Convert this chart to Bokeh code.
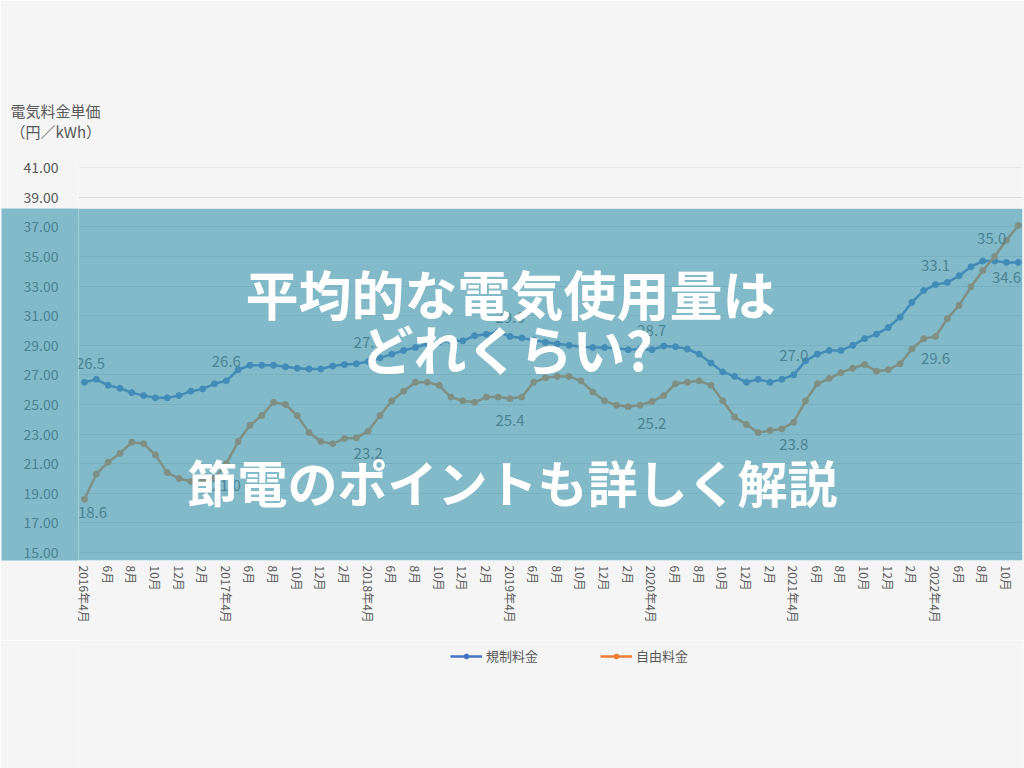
from bokeh.plotting import figure
from bokeh.layouts import column
from bokeh.models import (Range1d, FixedTicker, NumeralTickFormatter, ColumnDataSource,
                          BoxAnnotation, Label, Legend, LegendItem, Title)
from bokeh.embed import file_html
from bokeh.resources import INLINE
from bokeh.core.properties import value

# ---------------- data ----------------
# month index 0 = 2016年4月, 1 = 2016年5月, ... 79 = 2022年11月
tick_labels = [
    "2016年4月", "6月", "8月", "10月", "12月", "2月",
    "2017年4月", "6月", "8月", "10月", "12月", "2月",
    "2018年4月", "6月", "8月", "10月", "12月", "2月",
    "2019年4月", "6月", "8月", "10月", "12月", "2月",
    "2020年4月", "6月", "8月", "10月", "12月", "2月",
    "2021年4月", "6月", "8月", "10月", "12月", "2月",
    "2022年4月", "6月", "8月", "10月",
]

regulated = [  # 規制料金
    26.5, 26.7, 26.3, 26.1, 25.8, 25.6, 25.45, 25.45, 25.6, 25.9, 26.05, 26.4,
    26.6, 27.35, 27.65, 27.65, 27.65, 27.55, 27.45, 27.4, 27.4, 27.6, 27.7, 27.75,
    27.9, 28.15, 28.4, 28.65, 28.85, 29.1, 29.2, 29.3, 29.3, 29.65, 29.75, 29.9,
    29.6, 29.5, 29.35, 29.2, 29.1, 29.0, 28.9, 28.85, 28.85, 28.8, 28.7, 28.75,
    28.7, 28.95, 28.9, 28.75, 28.4, 27.8, 27.2, 26.9, 26.5, 26.7, 26.5, 26.7,
    27.0, 27.95, 28.4, 28.65, 28.65, 29.0, 29.45, 29.75, 30.2, 30.9, 31.9, 32.7,
    33.1, 33.25, 33.7, 34.3, 34.7, 34.7, 34.6, 34.6,
]

liberalized = [  # 自由料金
    18.6, 20.3, 21.1, 21.7, 22.45, 22.35, 21.6, 20.4, 20.0, 19.8, 19.8, 20.0,
    21.0, 22.5, 23.6, 24.25, 25.15, 25.0, 24.25, 23.1, 22.5, 22.35, 22.7, 22.75,
    23.2, 24.25, 25.25, 25.9, 26.5, 26.5, 26.3, 25.5, 25.25, 25.15, 25.5, 25.5,
    25.4, 25.5, 26.5, 26.8, 26.9, 26.9, 26.6, 25.85, 25.25, 24.95, 24.85, 24.95,
    25.2, 25.6, 26.4, 26.5, 26.6, 26.3, 25.25, 24.15, 23.65, 23.1, 23.25, 23.35,
    23.8, 25.25, 26.4, 26.75, 27.15, 27.45, 27.7, 27.25, 27.35, 27.75, 28.75, 29.45,
    29.6, 30.8, 31.7, 32.95, 34.05, 35.0, 36.1, 37.1,
]

regulated_label_idx = [0, 12, 24, 36, 48, 60, 72, 78]
liberalized_label_idx = [0, 12, 24, 36, 48, 60, 72, 77]

series_names = ["規制料金", "自由料金"]
y_ticks = [15, 17, 19, 21, 23, 25, 27, 29, 31, 33, 35, 37, 39, 41]
headline = ["平均的な電気使用量は", "どれくらい?", "節電のポイントも詳しく解説"]
axis_title = "電気料金単価\n（円／kWh）"

# ---------------- styling ----------------
BLUE = "#4472C4"
ORANGE = "#ED7D31"
GRAY = "#595959"
BG = "#f5f5f5"
BANNER = "rgb(68,154,177)"
BANNER_ON_BG = "rgb(130,186,201)"
GRAY_UNDER_BANNER = "#4b8392"
JP = "Noto Sans CJK JP"

# page geometry: plot area x 78..1022 ; value 15 at y=552, 14.8 px per unit ; 11.82 px per month
PX_MONTH = 11.82
PX_UNIT = 14.8
BANNER_TOP = 208      # banner top edge (page y)
BANNER_BOTTOM = 560   # banner bottom edge (page y)


def dx_(px):
    return (px - 84) / PX_MONTH


def dy_(py):
    return 15 + (552 - py) / PX_UNIT


x = list(range(len(regulated)))
xr = Range1d(dx_(78), dx_(1022))


def style_y(ax, color):
    ax.ticker = FixedTicker(ticks=y_ticks)
    ax.formatter = NumeralTickFormatter(format="0.00")
    ax.axis_line_color = None
    ax.major_tick_line_color = None
    ax.minor_tick_line_color = None
    ax.major_tick_out = 0
    ax.major_label_standoff = 20
    ax.major_label_text_font = JP
    ax.major_label_text_font_size = "14px"
    ax.major_label_text_color = color


def base(fig):
    fig.background_fill_color = BG
    fig.border_fill_color = BG
    fig.outline_line_color = None
    fig.title.visible = False
    fig.xgrid.grid_line_color = None
    fig.ygrid.grid_line_color = "#d9d9d9"
    fig.ygrid.grid_line_width = 1


def draw_series(fig):
    bl = fig.line(x, regulated, line_color=BLUE, line_width=2.5)
    bs = fig.scatter(x, regulated, size=6, fill_color=BLUE, line_color=BLUE)
    ol = fig.line(x, liberalized, line_color=ORANGE, line_width=2.5)
    os_ = fig.scatter(x, liberalized, size=6, fill_color=ORANGE, line_color=ORANGE)
    return bl, bs, ol, os_


# ---------- upper strip (above the banner): 41 / 39 gridlines and the value-axis title ----------
pt = figure(width=1024, height=BANNER_TOP, output_backend="svg", toolbar_location=None,
            x_range=xr, y_range=Range1d(dy_(BANNER_TOP), dy_(167)), x_axis_location=None,
            min_border_left=78, min_border_right=2, min_border_top=167, min_border_bottom=0)
base(pt)
style_y(pt.yaxis, GRAY)
draw_series(pt)
pt.add_layout(Title(text=axis_title, align="left", offset=-68, standoff=51,
                    text_font=JP, text_font_size="15px", text_font_style="normal",
                    text_color=GRAY), "above")

# ---------- main part (under the banner) with the category axis ----------
pb = figure(width=1024, height=640 - BANNER_TOP, output_backend="svg", toolbar_location=None,
            x_range=xr, y_range=Range1d(dy_(BANNER_BOTTOM), dy_(BANNER_TOP)),
            min_border_left=78, min_border_right=2, min_border_top=0, min_border_bottom=80)
base(pb)
style_y(pb.yaxis, GRAY_UNDER_BANNER)
pb.yaxis.axis_label = " "
pb.yaxis.axis_label_standoff = 2
pb.yaxis.axis_label_text_font_size = "12px"
try:
    pb.yaxis.background_fill_color = BANNER_ON_BG
except Exception:
    pass

even_idx = list(range(0, 2 * len(tick_labels), 2))
pb.xaxis.ticker = FixedTicker(ticks=even_idx)
pb.xaxis.major_label_overrides = {i: lab for i, lab in zip(even_idx, tick_labels)}
pb.xaxis.major_label_orientation = "vertical"
pb.xaxis.axis_line_color = None
pb.xaxis.major_tick_line_color = None
pb.xaxis.minor_tick_line_color = None
pb.xaxis.major_tick_out = 0
pb.xaxis.major_label_standoff = 5
pb.xaxis.major_label_text_font = JP
pb.xaxis.major_label_text_font_size = "12px"
pb.xaxis.major_label_text_color = GRAY

draw_series(pb)

# data labels
lab_x, lab_y, lab_t, lab_dx, lab_dy = [], [], [], [], []
for i in regulated_label_idx:
    lab_x.append(i); lab_y.append(regulated[i]); lab_t.append(f"{regulated[i]:.1f}")
    lab_dx.append(6 if i == regulated_label_idx[0] else 0)
    lab_dy.append(15 if i == regulated_label_idx[-1] else -19)
for i in liberalized_label_idx:
    lab_x.append(i); lab_y.append(liberalized[i]); lab_t.append(f"{liberalized[i]:.1f}")
    if i == liberalized_label_idx[0]:
        lab_dx.append(8); lab_dy.append(13)
    elif i == liberalized_label_idx[-1]:
        lab_dx.append(-3); lab_dy.append(-18)
    else:
        lab_dx.append(0); lab_dy.append(22)
lsrc = ColumnDataSource(dict(x=lab_x, y=lab_y, t=lab_t, dx=lab_dx, dy=lab_dy))
pb.text(x="x", y="y", text="t", x_offset="dx", y_offset="dy", source=lsrc,
        text_align="center", text_baseline="middle", text_font=value(JP),
        text_font_size="15px", text_color=GRAY)

# banner over the plot area
pb.add_layout(BoxAnnotation(fill_color=BANNER, fill_alpha=0.65, line_alpha=0, level="overlay"))
for txt, cx, cy, fs in [(headline[0], 510, 292, "53px"), (headline[1], 506, 347, "53px"),
                        (headline[2], 512, 480, "50px")]:
    pb.add_layout(Label(x=dx_(cx), y=dy_(cy), text=txt, text_font=JP, text_font_style="bold",
                        text_font_size=fs, text_color="white", text_align="center",
                        text_baseline="middle", level="overlay"))

# ---------- legend strip (series drawn outside its visible range; only the legend shows) ----------
pl = figure(width=1024, height=128, output_backend="svg", toolbar_location=None,
            x_range=xr, y_range=Range1d(0, 1),
            x_axis_location=None, y_axis_location=None,
            min_border_left=78, min_border_right=2, min_border_top=0, min_border_bottom=0)
pl.background_fill_color = BG
pl.border_fill_color = BG
pl.outline_line_color = None
pl.title.visible = False
pl.grid.grid_line_color = None
lb, lbs, lo, los = draw_series(pl)
legend = Legend(items=[LegendItem(label=series_names[0], renderers=[lb, lbs]),
                       LegendItem(label=series_names[1], renderers=[lo, los])],
                orientation="horizontal", location=(372, 103),
                glyph_width=32, glyph_height=12, label_standoff=4, spacing=62,
                padding=0, margin=0, background_fill_alpha=0, border_line_color=None,
                label_text_font=JP, label_text_font_size="13px", label_text_color=GRAY)
pl.add_layout(legend, "center")

layout = column(pt, pb, pl, spacing=0)
open("out.html", "w").write(file_html(layout, INLINE))
